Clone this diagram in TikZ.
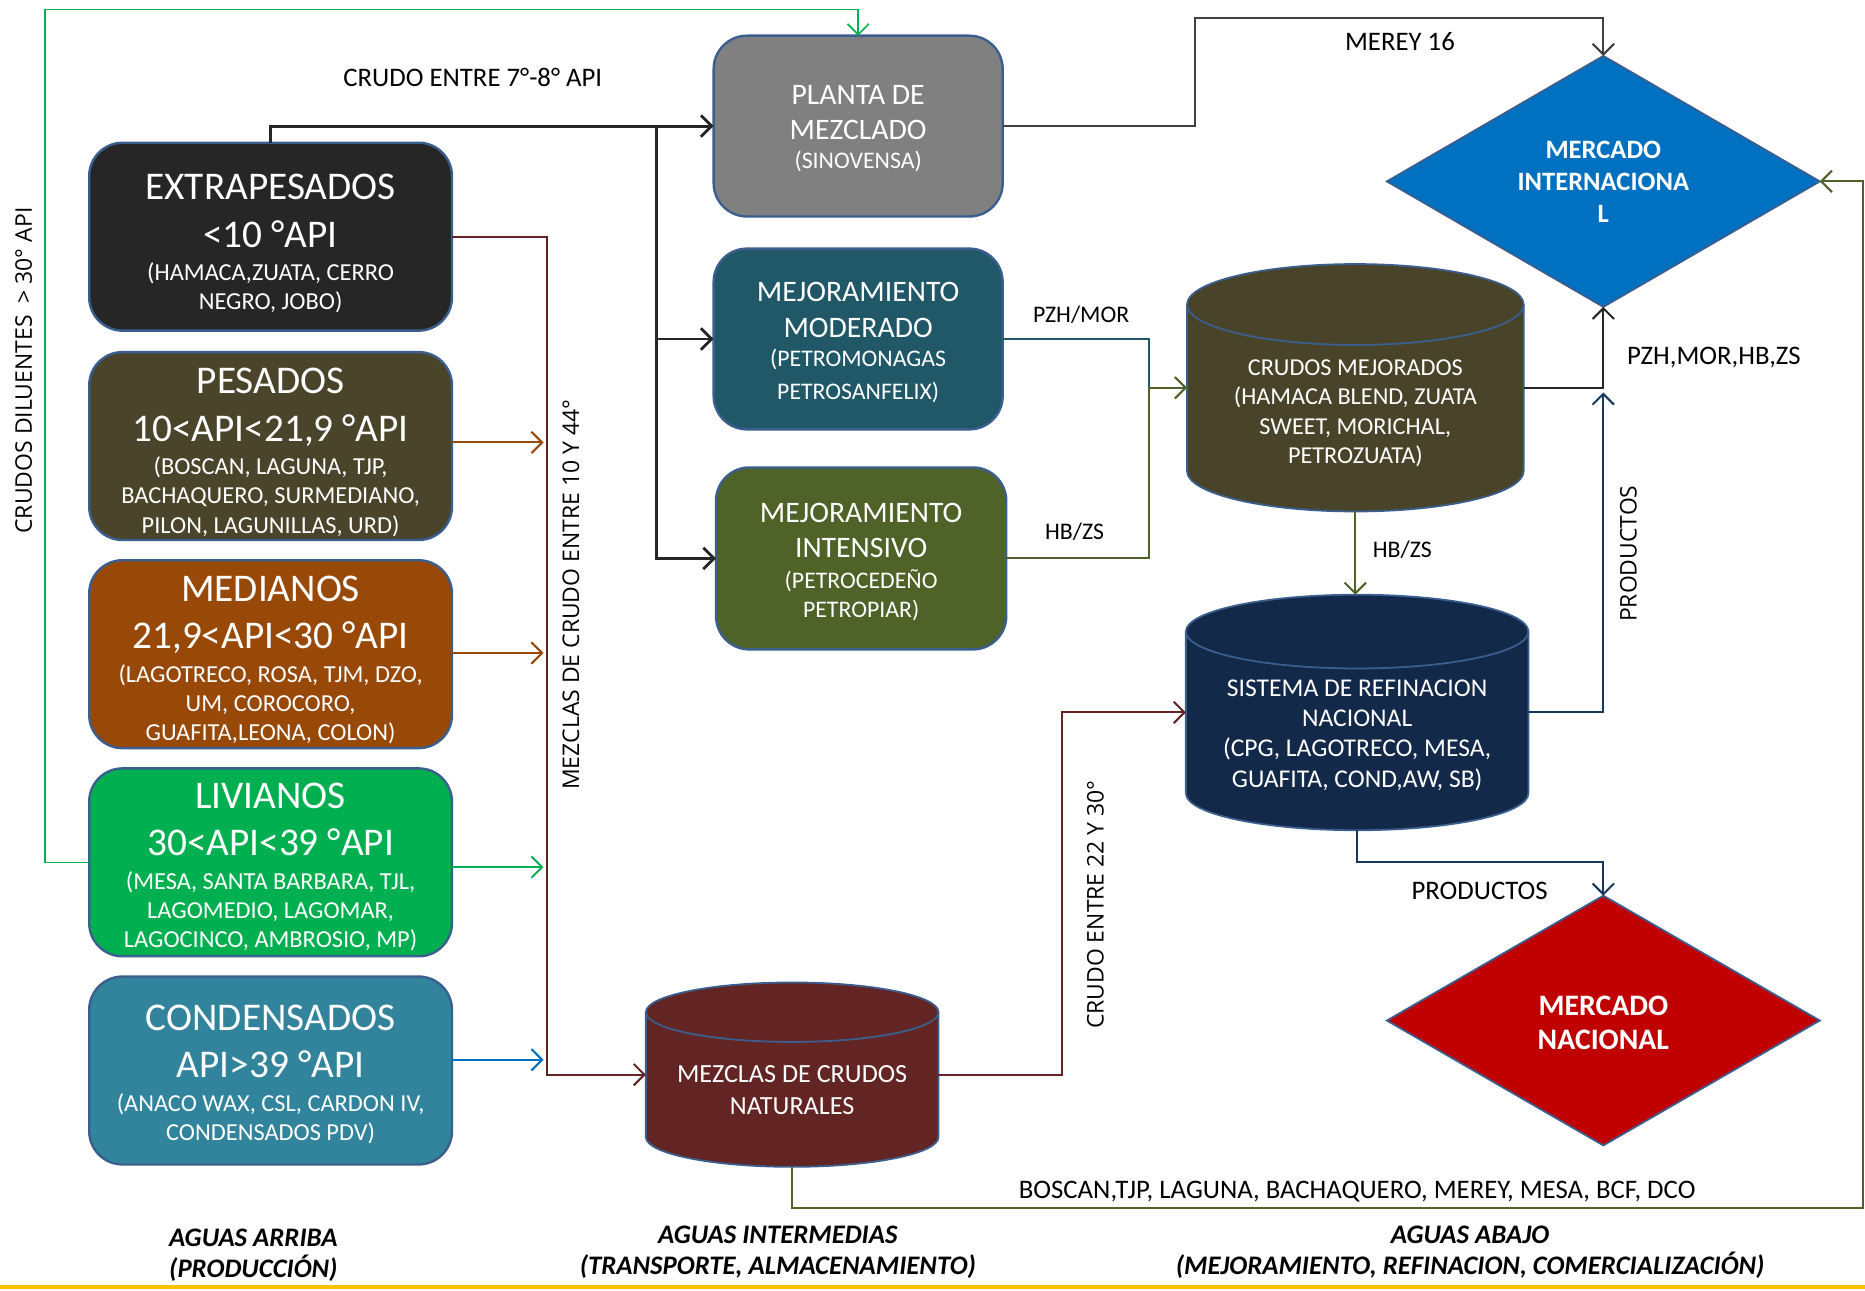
\documentclass[tikz,border=0pt]{standalone}
\usepackage{fontspec}
\setmainfont{Carlito}
\newfontfamily\osans{Open Sans}
\usetikzlibrary{arrows.meta,shapes.geometric}
\definecolor{cBorder}{HTML}{3A5F8F}
\definecolor{cEXT}{HTML}{262626}
\definecolor{cPES}{HTML}{4A442A}
\definecolor{cMED}{HTML}{984807}
\definecolor{cLIV}{HTML}{00B050}
\definecolor{cCON}{HTML}{31849B}
\definecolor{cPLA}{HTML}{808080}
\definecolor{cMOD}{HTML}{215868}
\definecolor{cINT}{HTML}{4F6228}
\definecolor{cCM}{HTML}{494429}
\definecolor{cSIS}{HTML}{13294A}
\definecolor{cMEZ}{HTML}{632523}
\definecolor{cMI}{HTML}{0070C0}
\definecolor{cMN}{HTML}{C00000}
\definecolor{lGray}{HTML}{404040}
\definecolor{lNavy}{HTML}{17375E}
\definecolor{lYellow}{HTML}{FFC000}
\newcommand{\tB}[1]{{\fontsize{33}{40}\selectfont #1}}
\newcommand{\mB}[1]{{\fontsize{25}{30}\selectfont #1}}
\newcommand{\cylinderdraw}[7]{%
 \pgfmathsetmacro{\cylX}{(#2+#4)/2}%
 \pgfmathsetmacro{\cylR}{(#4-#2)/2}%
 \pgfmathsetmacro{\cylY}{-(#3+#5)/2}%
 \pgfmathsetmacro{\cylW}{#4-#2}%
 \pgfmathsetmacro{\cylH}{#5-#3}%
 \fill[#7] (#2,-#3-#6) -- (#2,-#5+#6) arc[start angle=180,end angle=360,x radius=\cylR,y radius=#6] -- (#4,-#3-#6) arc[start angle=0,end angle=180,x radius=\cylR,y radius=#6] -- cycle;
 \draw[draw=cBorder,line width=1.5pt] (#2,-#3-#6) -- (#2,-#5+#6) arc[start angle=180,end angle=360,x radius=\cylR,y radius=#6] -- (#4,-#3-#6);
 \draw[draw=cBorder,line width=1.5pt] (\cylX,-#3-#6) ellipse[x radius=\cylR,y radius=#6];
 \node[inner sep=0pt,outer sep=0pt,minimum width=\cylW pt,minimum height=\cylH pt] (#1) at (\cylX,\cylY) {};
}
\begin{document}
\begin{tikzpicture}[x=1pt,y=1pt,
  box/.style={draw=cBorder, line width=2pt, rounded corners=28pt, inner sep=0pt, outer sep=0pt},
  lbox/.style={box, minimum width=305pt, minimum height=158pt},
  mbox/.style={box, minimum width=243pt, minimum height=152pt},
  wtxt/.style={text=white, align=flush center, inner sep=0pt, anchor=north},
  ltxt/.style={wtxt, text width=300pt, font=\fontsize{20.5}{24.5}\selectfont},
  lab/.style={inner sep=0pt, font=\fontsize{22.5}{26}\selectfont},
  vlab/.style={inner sep=0pt, rotate=90, font=\osans\fontsize{19.3}{22}\selectfont},
  ln/.style={line width=1.7pt},
  arr/.style={-{Straight Barb[length=9pt,width=18pt]}},
  dia/.style={diamond, draw=cBorder, line width=1.5pt, inner sep=0pt, outer sep=0pt, minimum width=364pt, minimum height=211pt},
  bot/.style={inner sep=0pt, align=center, font=\bfseries\itshape\fontsize{22.5}{26}\selectfont},
]
\useasboundingbox (0,0) rectangle (1568,-1085);

% ---------- left boxes ----------
\node[lbox, fill=cEXT] (ext) at (227.5,-199) {};
\node[ltxt] (extT) at (227.5,-146.5) {\tB{EXTRAPESADOS}\\[15.5pt]\tB{<10 °API}\\[3.5pt](HAMACA,ZUATA, CERRO\\NEGRO, JOBO)};
\node[lbox, fill=cPES] (pes) at (227.5,-375) {};
\node[ltxt] (pesT) at (227.5,-309.5) {\tB{PESADOS}\\[15.5pt]\tB{10<API<21,9 °API}\\[3.5pt](BOSCAN, LAGUNA, TJP,\\BACHAQUERO, SURMEDIANO,\\PILON, LAGUNILLAS, URD)};
\node[lbox, fill=cMED] (med) at (227.5,-550) {};
\node[ltxt] (medT) at (227.5,-484) {\tB{MEDIANOS}\\[15.5pt]\tB{21,9<API<30 °API}\\[3.5pt](LAGOTRECO, ROSA, TJM, DZO,\\UM, COROCORO,\\GUAFITA,LEONA, COLON)};
\node[lbox, fill=cLIV] (liv) at (227.5,-725) {};
\node[ltxt] (livT) at (227.5,-658) {\tB{LIVIANOS}\\[15.5pt]\tB{30<API<39 °API}\\[3.5pt](MESA, SANTA BARBARA, TJL,\\LAGOMEDIO, LAGOMAR,\\LAGOCINCO, AMBROSIO, MP)};
\node[lbox, fill=cCON] (con) at (227.5,-900) {};
\node[ltxt] (conT) at (227.5,-844.5) {\tB{CONDENSADOS}\\[15.5pt]\tB{API>39 °API}\\[3.5pt](ANACO WAX, CSL, CARDON IV,\\CONDENSADOS PDV)};

% ---------- middle boxes ----------
\node[mbox, fill=cPLA] (pla) at (721.5,-106) {};
\node[wtxt, text width=240pt, font=\fontsize{20}{26}\selectfont] (plaT) at (721.5,-71.7) {\mB{PLANTA DE}\\[3.5pt]\mB{MEZCLADO}\\[-1.6pt](SINOVENSA)};
\node[mbox, fill=cMOD] (mod) at (721.5,-285) {};
\node[wtxt, text width=240pt, font=\fontsize{20}{27.5}\selectfont] (modT) at (721.5,-237.1) {\mB{MEJORAMIENTO}\\[2.5pt]\mB{MODERADO}\\[-3pt](PETROMONAGAS\\PETROSANFELIX)};
\node[mbox, fill=cINT, minimum width=244pt, minimum height=153pt] (int) at (724,-469.5) {};
\node[wtxt, text width=240pt, font=\fontsize{20}{24}\selectfont] (intT) at (724,-423.1) {\mB{MEJORAMIENTO}\\[5pt]\mB{INTENSIVO}\\[2.4pt](PETROCEDEÑO\\PETROPIAR)};

% ---------- cylinders ----------
\cylinderdraw{cm}{998}{222}{1281}{430}{34}{cCM}
\node[wtxt, text width=280pt, font=\fontsize{20.4}{24.5}\selectfont] (cmT) at (1139.5,-302.5) {CRUDOS MEJORADOS\\(HAMACA BLEND, ZUATA\\SWEET, MORICHAL,\\PETROZUATA)};
\cylinderdraw{sis}{997}{500}{1285}{698}{31}{cSIS}
\node[wtxt, text width=285pt, font=\fontsize{21.5}{25.5}\selectfont] (sisT) at (1141,-571.2) {SISTEMA DE REFINACION\\NACIONAL\\(CPG, LAGOTRECO, MESA,\\GUAFITA, COND,AW, SB)};
\cylinderdraw{mez}{543}{826}{789}{981}{25}{cMEZ}
\node[wtxt, text width=244pt, font=\fontsize{22}{26.5}\selectfont] (mezT) at (666,-896) {MEZCLAS DE CRUDOS\\NATURALES};

% ---------- diamonds ----------
\node[dia, fill=cMI] (mi) at (1348,-152.5) {};
\node[wtxt, align=center, font=\bfseries\fontsize{22.3}{27}\selectfont] (miT) at (1348,-118.5) {MERCADO\\INTERNACIONA\\L};
\node[dia, fill=cMN, minimum height=210pt] (mn) at (1348,-858) {};
\node[wtxt, align=center, font=\bfseries\fontsize{25}{29}\selectfont] (mnT) at (1348,-837) {MERCADO\\NACIONAL};

% ---------- junction coordinates ----------
\coordinate (gTop) at (38,-8);
\coordinate (bj) at (552,-106);
\coordinate (rj) at (460,-903.5);
\coordinate (mj) at (1005,-15);
\coordinate (tj) at (966,-326);
\coordinate (nj) at (1348,-330);
\coordinate (sj) at (1348,-725);
\coordinate (rj2) at (893,-599);
\coordinate (bj2) at (1566,-1016);
\coordinate (yl) at (0,-1082);
\coordinate (yr) at (1568,-1082);

% ---------- connectors ----------
\draw[line width=1.4pt, cLIV, arr] (liv.west) -- (liv.west -| gTop) -- (gTop) -| (pla.north);
\draw[line width=2.4pt, cEXT, arr] (ext.north) |- (pla.west);
\draw[line width=2.4pt, cEXT, arr] (bj) |- (mod.west);
\draw[line width=2.4pt, cEXT, arr] (bj) |- (int.west);
\draw[ln, cMEZ, arr] (ext.east) -| (rj) -- (mez.west);
\draw[ln, cMED, arr, shorten >=3pt] ([yshift=3pt]pes.east) -- ([yshift=3pt]pes.east -| rj);
\draw[ln, cMED, arr, shorten >=3pt] ([yshift=1pt]med.east) -- ([yshift=1pt]med.east -| rj);
\draw[ln, cLIV, arr, shorten >=3pt] ([yshift=-4pt]liv.east) -- ([yshift=-4pt]liv.east -| rj);
\draw[ln, cMI, arr, shorten >=3pt] ([yshift=9pt]con.east) -- ([yshift=9pt]con.east -| rj);
\draw[ln, lGray, arr] (pla.east) -| (mj) -| (mi.north);
\draw[ln, cMOD] (mod.east) -| (tj);
\draw[ln, cINT, arr] (int.east) -| (tj) -- (cm.west);
\draw[ln, cEXT, arr] (cm.east) -| (mi.south);
\draw[ln, cINT, arr] (cm.south) -- (cm.south |- sis.north);
\draw[ln, lNavy, arr] (sis.east) -| (nj);
\draw[ln, lNavy, arr] (sis.south) |- (sj) -- (mn.north);
\draw[ln, cMEZ, arr] (mez.east) -| (rj2) -- (sis.west);
\draw[ln, cINT, arr] (mez.south) |- (bj2) |- (mi.east);
\draw[line width=4pt, lYellow] (yl) -- (yr);

% ---------- labels ----------
\node[vlab] (lDil) at (20,-311.5) {CRUDOS DILUENTES \ > 30° API};
\node[lab] (l78) at (397.5,-64.7) {CRUDO ENTRE 7°-8° API};
\node[vlab] (lMez) at (480,-500) {MEZCLAS DE CRUDO ENTRE 10 Y 44°};
\node[lab] (lMer) at (1177,-35) {MEREY 16};
\node[lab, font=\fontsize{20}{24}\selectfont] (lPzh) at (909,-265) {PZH/MOR};
\node[lab, font=\fontsize{20}{24}\selectfont] (lHb1) at (903.5,-447) {HB/ZS};
\node[lab] (lPmh) at (1441,-301) {PZH,MOR,HB,ZS};
\node[lab, font=\fontsize{20}{24}\selectfont] (lHb2) at (1179,-462) {HB/ZS};
\node[vlab] (lPro1) at (1369,-465.5) {PRODUCTOS};
\node[lab] (lPro2) at (1244,-749) {PRODUCTOS};
\node[vlab] (l2230) at (921,-760.5) {CRUDO ENTRE 22 Y 30°};
\node[lab] (lBos) at (1141,-1002) {BOSCAN,TJP, LAGUNA, BACHAQUERO, MEREY, MESA, BCF, DCO};
\node[bot] (bArr) at (213,-1055) {AGUAS ARRIBA\\(PRODUCCIÓN)};
\node[bot] (bInt) at (654,-1053) {AGUAS INTERMEDIAS\\(TRANSPORTE, ALMACENAMIENTO)};
\node[bot] (bAba) at (1236,-1053) {AGUAS ABAJO\\(MEJORAMIENTO, REFINACION, COMERCIALIZACIÓN)};
\end{tikzpicture}
\end{document}
